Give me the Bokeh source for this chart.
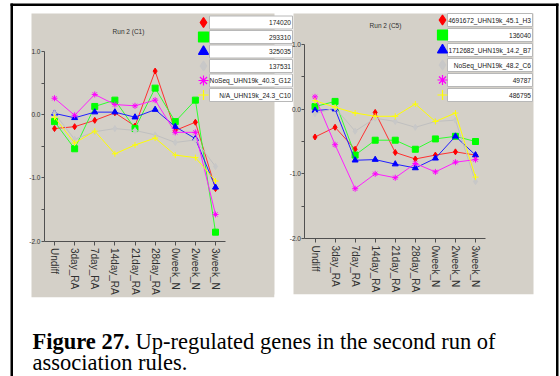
from bokeh.plotting import figure
from bokeh.models import Range1d, LinearAxis, FixedTicker, NumeralTickFormatter
from bokeh.core.properties import value
from bokeh.embed import file_html
from bokeh.resources import INLINE

# ---------------- data ----------------
categories = ["Undiff", "3day_RA", "7day_RA", "14day_RA", "21day_RA",
              "28day_RA", "0week_N", "2week_N", "3week_N"]

c1_title = "Run 2 (C1)"
c1_names = ["174020", "293310", "325035", "137531",
            "NoSeq_UHN19k_40.3_G12", "N/A_UHN19k_24.3_C10"]
c1_red = [-0.22, -0.19, -0.09, 0.03, -0.18, 0.69, -0.25, -0.12, -1.17]
c1_green = [-0.11, -0.54, 0.13, 0.23, -0.22, 0.42, -0.11, 0.23, -1.86]
c1_blue = [0.02, -0.05, 0.04, 0.04, -0.04, 0.08, -0.19, -0.38, -1.15]
c1_gray = [0.02, -0.39, -0.27, -0.22, -0.25, -0.32, -0.44, -0.40, -0.82]
c1_magenta = [0.26, -0.01, 0.32, 0.16, 0.14, 0.23, -0.28, -0.28, -1.58]
c1_yellow = [-0.04, -0.45, -0.26, -0.62, -0.48, -0.37, -0.64, -0.68, -1.05]

c5_title = "Run 2 (C5)"
c5_names = ["4691672_UHN19k_45.1_H3", "136040", "1712682_UHN19k_14.2_B7",
            "NoSeq_UHN19k_48.2_C6", "49787", "486795"]
c5_red = [-0.43, -0.28, -0.62, -0.05, -0.67, -0.77, -0.71, -0.66, -0.71]
c5_green = [0.04, 0.12, -0.71, -0.48, -0.48, -0.62, -0.46, -0.42, -0.50]
c5_blue = [-0.02, 0.00, -0.79, -0.78, -0.85, -0.91, -0.76, -0.42, -0.71]
c5_gray = [-0.07, 0.02, -0.34, -0.14, -0.19, -0.28, -0.19, -0.17, -1.12]
c5_magenta = [0.19, -0.55, -1.23, -1.00, -1.06, -0.84, -0.97, -0.82, -0.78]
c5_yellow = [0.13, 0.03, -0.06, -0.11, -0.11, 0.08, -0.19, -0.06, -1.05]

y_ticks = [-2, -1, 0, 1]
y_minor = [-1.5, -0.5, 0.5]

caption_bold = "Figure 27."
caption_line1 = "Up-regulated genes in the second run of"
caption_line2 = "association rules."

# ---------------- styles ----------------
series_style = [
    ("diamond", "#ff0000", "#ff3030"),
    ("square", "#00ff00", "#30ff30"),
    ("triangle", "#0000ff", "#2020ff"),
    ("diamond", "#c8c8c8", "#c0c0c0"),
    ("asterisk", "#ff00ff", "#ff20ff"),
    ("cross", "#ffff00", "#ffff00"),
]
PANEL = "#d4d0c8"
SANS = "Liberation Sans"

W, H = 560, 376

p = figure(width=W, height=H, x_range=Range1d(0, W), y_range=Range1d(H, 0),
           x_axis_type=None, y_axis_type=None, output_backend="svg",
           toolbar_location=None, min_border=0, outline_line_color=None,
           background_fill_color="white", border_fill_color="white",
           margin=(0, 0, 0, 0))


def x_map(px_a, v_a, px_b, v_b):
    k = (v_b - v_a) / (px_b - px_a)
    return Range1d(start=v_a - px_a * k, end=v_a + (W - px_a) * k)


def y_map(px_a, v_a, px_b, v_b):
    k = (v_b - v_a) / (px_b - px_a)
    return Range1d(start=v_a + (H - px_a) * k, end=v_a - px_a * k)


p.extra_x_ranges = {"lx": x_map(54, 0, 215, 8), "rx": x_map(314.5, 0, 475, 8)}
p.extra_y_ranges = {"ly": y_map(51, 1.0, 240.5, -2.0), "ry": y_map(44, 1.0, 238, -2.0)}

# frame / panels
p.quad(left=[31, 293], right=[274, 533], top=[13, 13], bottom=[297, 294],
       fill_color=PANEL, line_color=None)
p.quad(left=[10, 10, 555.5], right=[12.5, 558, 558], top=[3, 3, 3],
       bottom=[380, 5.5, 380], fill_color="black", line_color=None)


def chart(xr, yr, series, names, title, title_xy, leg_marker_x, leg_left,
          leg_right, leg_y0, leg_dy):
    idx = list(range(len(categories)))
    for vals, (mk, mcol, lcol) in zip(series, series_style):
        p.line(idx, vals, x_range_name=xr, y_range_name=yr, line_color=lcol,
               line_width=1)
        p.scatter(idx, vals, x_range_name=xr, y_range_name=yr, marker=mk,
                  size=6, fill_color=mcol, line_color=mcol, line_width=1)

    yax = LinearAxis(x_range_name=xr, y_range_name=yr, fixed_location=-0.5,
                     bounds=(-2, 1))
    yax.ticker = FixedTicker(ticks=y_ticks, minor_ticks=y_minor)
    yax.formatter = NumeralTickFormatter(format="0.0")
    yax.axis_line_color = "#505050"
    yax.major_tick_line_color = "#505050"
    yax.minor_tick_line_color = "#505050"
    yax.major_tick_in = 0
    yax.major_tick_out = 3
    yax.minor_tick_in = 0
    yax.minor_tick_out = 3
    yax.major_label_standoff = 1
    yax.major_label_text_font = SANS
    yax.major_label_text_font_size = "6.5px"
    yax.major_label_text_color = "#303030"
    p.add_layout(yax, "left")

    xax = LinearAxis(x_range_name=xr, y_range_name=yr, fixed_location=-2.0,
                     bounds=(-0.5, 8.5))
    xax.ticker = FixedTicker(ticks=idx, minor_ticks=[])
    xax.major_label_overrides = {i: c for i, c in enumerate(categories)}
    xax.major_label_orientation = "vertical"
    xax.axis_line_color = "#505050"
    xax.major_tick_line_color = "#505050"
    xax.major_tick_in = 0
    xax.major_tick_out = 4
    xax.major_label_standoff = 3
    xax.major_label_text_font = SANS
    xax.major_label_text_font_size = "10px"
    xax.major_label_text_color = "#303030"
    p.add_layout(xax, "below")

    p.text(x=[title_xy[0]], y=[title_xy[1]], text=[title], text_align="center",
           text_baseline="middle", text_font=value(SANS),
           text_font_size="6.5px", text_color="#303030")

    ys = [leg_y0 + i * leg_dy for i in range(len(names))]
    p.quad(left=[leg_left] * len(names), right=[leg_right] * len(names),
           top=[y - 6.5 for y in ys], bottom=[y + 6.5 for y in ys],
           fill_color="white", line_color="#b8b8b8", line_width=1)
    for (mk, mcol, lcol), y in zip(series_style, ys):
        p.scatter([leg_marker_x], [y], marker=mk, size=10, fill_color=mcol,
                  line_color=mcol, line_width=1.2)
    p.text(x=[leg_right - 1.5] * len(names), y=ys, text=names, text_align="right",
           text_baseline="middle", text_font=value(SANS),
           text_font_size="6.6px", text_color="#202020")


chart("lx", "ly", [c1_red, c1_green, c1_blue, c1_gray, c1_magenta, c1_yellow],
      c1_names, c1_title, (128, 31), 203, 209, 292, 22, 14.5)
chart("rx", "ry", [c5_red, c5_green, c5_blue, c5_gray, c5_magenta, c5_yellow],
      c5_names, c5_title, (385, 25), 442, 447, 532, 19.5, 15)

# white mask to clip the long tick labels at the panel bottoms
p.quad(left=[13, 274], right=[555, 555], top=[297, 294], bottom=[318, 318],
       fill_color="white", line_color=None, level="overlay")

# caption
CAP = 22.5
bold_w = 4.333 * CAP
p.text(x=[32], y=[341], text=[caption_bold], text_font=value("Liberation Serif"),
       text_font_style="bold", text_font_size=f"{CAP}px", text_baseline="alphabetic",
       text_color="black", level="overlay")
p.text(x=[32 + bold_w + 0.25 * CAP], y=[341], text=[caption_line1],
       text_font=value("Liberation Serif"), text_font_size=f"{CAP}px",
       text_baseline="alphabetic", text_color="black", level="overlay")
p.text(x=[32], y=[362], text=[caption_line2], text_font=value("Liberation Serif"),
       text_font_size=f"{CAP}px", text_baseline="alphabetic", text_color="black",
       level="overlay")

open("out.html", "w").write(file_html(p, INLINE))
